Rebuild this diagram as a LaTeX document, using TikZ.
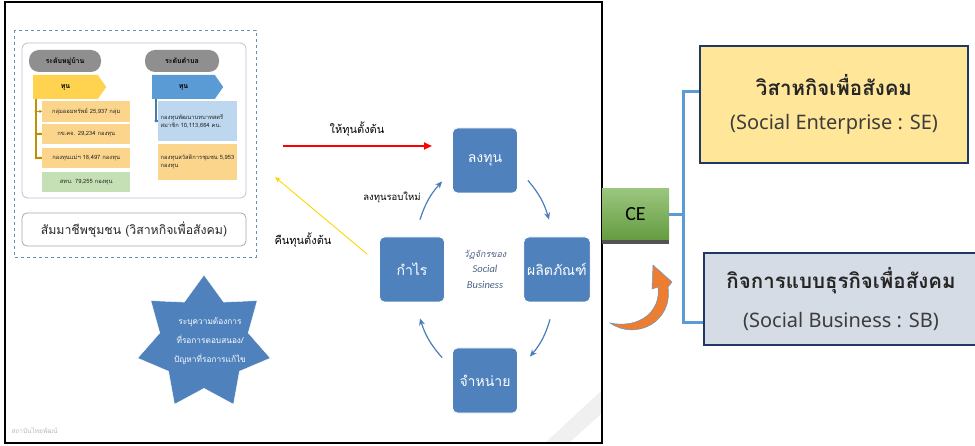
\documentclass[tikz,border=0pt]{standalone}
\usepackage{fontspec}
\setmainfont{Carlito}
\newfontfamily\thai[Script=Thai]{Loma}
\newfontfamily\latsans{Noto Sans}
\usetikzlibrary{shapes.geometric,shapes.symbols,arrows.meta,calc}
\definecolor{bluebox}{HTML}{4F81BD}
\definecolor{cycblue}{HTML}{4A7EBB}
\definecolor{goldln}{HTML}{BF9000}
\definecolor{yelarr}{HTML}{FFD34F}
\definecolor{orbox}{HTML}{FCD58C}
\definecolor{grbox}{HTML}{C5E0B4}
\definecolor{lbbox}{HTML}{BDD7EE}
\definecolor{pillgray}{HTML}{8F8F8F}
\definecolor{dashbl}{HTML}{6A8DB5}
\definecolor{innergr}{HTML}{B4C3D4}
\definecolor{sefill}{HTML}{FFE699}
\definecolor{sbfill}{HTML}{D6DCE5}
\definecolor{navyb}{HTML}{1F3864}
\definecolor{brkblue}{HTML}{5B9BD5}
\definecolor{cegreen}{HTML}{70AD47}
\definecolor{ceorange}{HTML}{ED7D31}
\definecolor{txtdark}{HTML}{262626}
\definecolor{midblue}{HTML}{5B9BD5}
\begin{document}
\begin{tikzpicture}[x=1pt,y=-1pt,
  bbox/.style={rectangle, rounded corners=5pt, fill=bluebox, draw=white, line width=0.8pt,
    minimum width=65pt, minimum height=65pt, text=white, font=\thai\fontsize{14}{16}\selectfont},
  cyc/.style={draw=cycblue, line width=1.2pt, -{Stealth[length=7pt,width=6pt]}},
  sbox/.style={rectangle, anchor=west, inner sep=2pt, text=txtdark, align=left,
    font=\thai\fontsize{5.8}{8}\selectfont},
  pill/.style={rectangle, rounded corners=10pt, fill=pillgray, minimum height=22pt,
    text=black, font=\thai\bfseries\fontsize{7}{8}\selectfont},
  tun/.style={signal, signal to=east, signal pointer angle=110, minimum height=24pt,
    text=black, font=\thai\bfseries\fontsize{7}{8}\selectfont},
  lbl/.style={text=black, font=\thai\fontsize{11}{13}\selectfont},
  dotm/.style={fill=goldln, circle, inner sep=0pt, minimum size=3pt},
  brk/.style={draw=brkblue, line width=3pt},
  bigbox/.style={rectangle, draw=navyb, line width=2.2pt, align=center, text=txtdark}
]
\useasboundingbox (0,0) rectangle (975,446);
% slide background stripe
\fill[gray!12] (545,443) -- (569,443) -- (601,414) -- (601,391) -- cycle;
% dashed frame
\draw[dashbl, dashed, line width=0.8pt] (14,30) rectangle (256,257);
\draw[innergr, rounded corners=6pt, line width=0.8pt] (22,43) rectangle (246,198);
% pills
\node[pill, minimum width=72pt] (pv) at (65,61) {ระดับหมู่บ้าน};
\node[pill, minimum width=74pt] (pt) at (182,61) {ระดับตำบล};
% tun arrows
\node[tun, fill=yelarr, minimum width=73pt] (ya) at (65.5,87) {ทุน};
\node[tun, fill=midblue, minimum width=71pt] (ba) at (183.5,87) {ทุน};
% small boxes left
\node[sbox, fill=orbox, minimum width=88pt, minimum height=21pt] (b1) at (42,111.5) {กลุ่มออมทรัพย์ 25,937 กลุ่ม};
\node[sbox, fill=orbox, minimum width=88pt, minimum height=20pt] (b2) at (42,134) {กข.คจ. 29,234 กองทุน};
\node[sbox, fill=orbox, minimum width=88pt, minimum height=20pt] (b3) at (42,158) {กองทุนแม่ฯ 18,497 กองทุน};
\node[sbox, fill=grbox, minimum width=88pt, minimum height=20pt] (b4) at (42,182) {สทบ. 79,255 กองทุน};
% right boxes
\node[sbox, fill=lbbox, minimum width=79pt, minimum height=40pt, text width=74pt] (lb) at (158,121) {กองทุนพัฒนาบทบาทสตรี\\สมาชิก 10,113,664 คน.};
\node[sbox, fill=orbox, minimum width=79pt, minimum height=36pt, text width=74pt] (ob) at (158,162) {กองทุนสวัสดิการชุมชน 5,953\\กองทุน};
% gold tree
\coordinate (gtop) at ($(ya.south west)+(3,0)$);
\draw[goldln, line width=1.4pt] (gtop) -- (gtop |- b3.west);
\foreach \b in {b1,b2,b3}{
  \draw[goldln, line width=1.2pt] (gtop |- \b.west) -- (\b.west);
  \node[dotm] at (gtop |- \b.west) {};
  \node[dotm] at ($(\b.west)+(-2,0)$) {};
}
% blue tree
\coordinate (btop) at ($(ba.south west)+(4,0)$);
\draw[midblue!80!black, line width=1.2pt] (btop) |- (lb.west);
\node[dotm, fill=midblue!80!black] at (btop |- lb.west) {};
\node[dotm, fill=midblue!80!black] at ($(lb.west)+(-2,0)$) {};
% bottom label box
\node[rectangle, rounded corners=5pt, draw=gray!70, line width=0.8pt, minimum width=224pt, minimum height=33pt,
  font=\thai\fontsize{12.3}{15}\selectfont, text=txtdark] (sm) at (134,229.5) {สัมมาชีพชุมชน (วิสาหกิจเพื่อสังคม)};
% cycle boxes
\node[bbox] (l) at (485,160.5) {ลงทุน};
\node[bbox] (p) at (557,269.5) {ผลิตภัณฑ์};
\node[bbox] (j) at (485,380.5) {จำหน่าย};
\node[bbox] (k) at (412,269.5) {กำไร};
\draw[cyc] ([shift={(8,-17)}]k.north) to[bend left=12] ([shift={(-10,-12)}]l.south west);
\draw[cyc] ([shift={(10,-13)}]l.south east) to[bend left=12] ([shift={(-8,-17)}]p.north);
\draw[cyc] ([shift={(-7,17)}]p.south) to[bend left=12] ([shift={(12,9)}]j.north east);
\draw[cyc] ([shift={(-10,10)}]j.north west) to[bend left=12] ([shift={(8,16)}]k.south);
% centre text
\node[align=center, text=navyb!80, font=\itshape\fontsize{10.5}{15.5}\selectfont] (ct) at (485,269)
  {{\thai\fontsize{9}{15.5}\selectfont วัฏจักรของ}\\Social\\Business};
% capital arrows
\coordinate (r0) at (283,146);
\coordinate (r1) at (432,146);
\draw[red, line width=2.2pt, -{Triangle[length=8pt,width=7pt]}] (r0) -- (r1);
\node[lbl] (rl) at (357,129) {ให้ทุนตั้งต้น};
\coordinate (y0) at (367,254);
\coordinate (y1) at (275,177);
\draw[yellow!75!orange, line width=0.9pt, -{Stealth[length=6pt,width=5pt]}] (y0) -- (y1);
\node[lbl] (yl) at (303,240) {คืนทุนตั้งต้น};
\node[lbl, font=\thai\fontsize{9.5}{11}\selectfont] (nl) at (392,197) {ลงทุนรอบใหม่};
% star
\node[star, star points=7, star point ratio=1.5, minimum size=136pt, inner sep=0pt, fill=bluebox, draw=white] (st) at (204,343) {};
\node[align=center, text=white, font=\thai\fontsize{8.3}{19}\selectfont] (stt) at (210,341)
  {ระบุความต้องการ\\ที่รอการตอบสนอง/\\ปัญหาที่รอการแก้ไข};
% footer
\node[text=gray!55, font=\thai\fontsize{6.5}{8}\selectfont, anchor=west] (ft) at (8,431) {สถาบันไทยพัฒน์};
% slide frame
\draw[black, line width=2.5pt] (5,2) rectangle (602,443);
% CE
\node[rectangle, minimum width=67pt, minimum height=51pt, top color=cegreen!70!white, bottom color=cegreen!90!black,
  font=\fontsize{20}{22}\selectfont, text=black] (ce) at (635.5,214.5) {CE};
\fill[gray!65!black] (ce.south west) rectangle ($(ce.south east)+(0,4)$);
% right boxes
\node[bigbox, fill=sefill, minimum width=268pt, minimum height=117pt] (se) at (834,104.5)
  {{\thai\bfseries\fontsize{20.5}{24}\selectfont วิสาหกิจเพื่อสังคม}\\[17pt]{\latsans\fontsize{20}{24}\selectfont\color{txtdark!90} (Social Enterprise : SE)}};
\node[bigbox, fill=sbfill, minimum width=274pt, minimum height=92pt] (sb) at (841,299)
  {{\thai\bfseries\fontsize{20.5}{24}\selectfont กิจการแบบธุรกิจเพื่อสังคม}\\[18pt]{\latsans\fontsize{20}{24}\selectfont\color{txtdark!90} (Social Business : SB)}};
% bracket
\coordinate (bx) at ($(ce.east)+(14,0)$);
\draw[brk] (ce.east) -- (bx);
\draw[brk] ([yshift=12.5pt]se.west) -| (bx) |- ([yshift=-24pt]sb.west);
% orange curved arrow
\fill[ceorange, draw=midblue, line width=0.5pt] (610,323) .. controls (636,341) and (673,322) .. (668,287)
  -- (672,282) -- (653,265) -- (652,289) -- (658,287) .. controls (661,311) and (640,329) .. (610,323) -- cycle;
\end{tikzpicture}
\end{document}
